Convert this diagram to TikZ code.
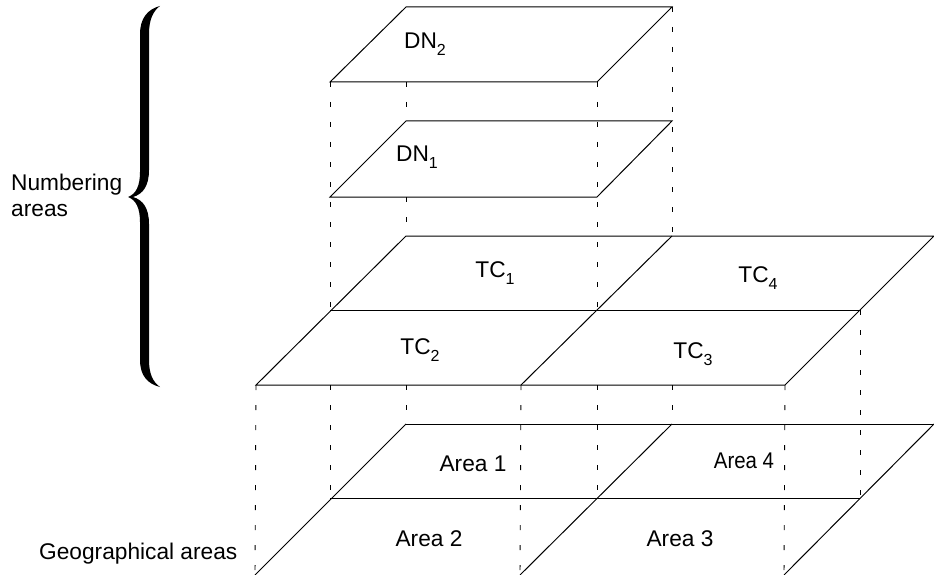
\documentclass[tikz,border=0pt]{standalone}
\usepackage{fontspec}
\setmainfont{Liberation Sans}
\newcommand\sbs[1]{\raisebox{-0.3em}{\fontsize{16}{16}\selectfont #1}}
\tikzset{
  edge/.style={draw=black, line width=1pt, line join=miter},
  hid/.style={draw=black, line width=0.9pt, dash pattern=on 5pt off 15pt},
  lbl/.style={font=\fontsize{22.7}{27}\selectfont, inner sep=0pt, anchor=center},
  side/.style={font=\fontsize{22.7}{26}\selectfont, inner sep=0pt, align=left, anchor=north west},
}
\begin{document}
\begin{tikzpicture}[x=1pt,y=-1pt]
\useasboundingbox (0,0) rectangle (934,575);
% DN2
\coordinate (a1) at (406,7);  \coordinate (a2) at (672,7);
\coordinate (a3) at (597,82); \coordinate (a4) at (330,82);
\coordinate (a5) at (406,82);
% DN1
\coordinate (b1) at (406,121); \coordinate (b2) at (672,121);
\coordinate (b3) at (597,197); \coordinate (b4) at (330,197);
\coordinate (b5) at (406,197);
% TC plane
\coordinate (t1) at (406,236); \coordinate (t2) at (672,236); \coordinate (t3) at (934,236);
\coordinate (t4) at (330,310); \coordinate (t5) at (597,310); \coordinate (t6) at (860,310);
\coordinate (t7) at (256,385); \coordinate (t8) at (521,385); \coordinate (t9) at (785,385);
\coordinate (u1) at (406,385); \coordinate (u2) at (672,385);
\coordinate (u4) at (330,385); \coordinate (u5) at (597,385);
% Area plane
\coordinate (g1) at (406,424); \coordinate (g2) at (672,424); \coordinate (g3) at (934,424);
\coordinate (g4) at (330,498); \coordinate (g5) at (597,498); \coordinate (g6) at (860,498);
\coordinate (g7) at (255,575); \coordinate (g8) at (520,575); \coordinate (g9) at (784,575);

% hidden (dashed) verticals
\draw[hid] (a2) -- (t2);
\draw[hid] (a5) -- (b1);
\draw[hid] (b5) -- (t1);
\draw[hid] (a3) -- (t5);
\draw[hid] (a4) -- (t4);
\draw[hid] (u1) -- (g1);
\draw[hid] (u2) -- (g2);
\draw[hid] (u4) -- (g4);
\draw[hid] (u5) -- (g5);
\draw[hid] (t7) -- (g7);
\draw[hid] (t8) -- (g8);
\draw[hid] (t9) -- (g9);
\draw[hid] (t6) -- (g6);

% DN planes
\draw[edge] (a1) -- (a2) -- (a3) -- (a4) -- cycle;
\draw[edge] (b1) -- (b2) -- (b3) -- (b4) -- cycle;
% TC plane
\draw[edge] (t1) -- (t3) -- (t9) -- (t7) -- cycle;
\draw[edge] (t4) -- (t6);
\draw[edge] (t2) -- (t8);
% Area plane
\draw[edge] (g1) -- (g3);
\draw[edge] (g4) -- (g6);
\draw[edge] (g1) -- (g7);
\draw[edge] (g2) -- (g8);
\draw[edge] (g3) -- (g9);

% labels
\node[lbl] (dn2) at (425,44) {DN\sbs{2}};
\node[lbl] (dn1) at (417,157) {DN\sbs{1}};
\node[lbl] (tc1) at (495,273) {TC\sbs{1}};
\node[lbl] (tc2) at (420,350) {TC\sbs{2}};
\node[lbl] (tc4) at (758,278) {TC\sbs{4}};
\node[lbl] (tc3) at (693,354) {TC\sbs{3}};
\node[lbl] (ar1) at (473,464) {Area 1};
\node[lbl] (ar2) at (429,539) {Area 2};
\node[lbl] (ar4) at (744,461) {\scalebox{0.9}[1]{Area 4}};
\node[lbl] (ar3) at (680,539) {Area 3};
\node[side] (num) at (11,174) {Numbering\\areas};
\node[side, anchor=west] (geo) at (39,554) {Geographical areas};

% brace
\fill[black] (160,6) .. controls (148,9) and (140,18) .. (140,34)
  -- (140,172) .. controls (140,186) and (136,194) .. (128,197)
  .. controls (136,200) and (140,208) .. (140,222)
  -- (140,360) .. controls (140,376) and (148,384) .. (160,387)
  .. controls (153,382) and (149,374) .. (149,360)
  -- (149,224) .. controls (149,208) and (143,200) .. (133,197)
  .. controls (143,194) and (149,186) .. (149,170)
  -- (149,34) .. controls (149,20) and (153,11) .. (160,6) -- cycle;
\end{tikzpicture}
\end{document}
